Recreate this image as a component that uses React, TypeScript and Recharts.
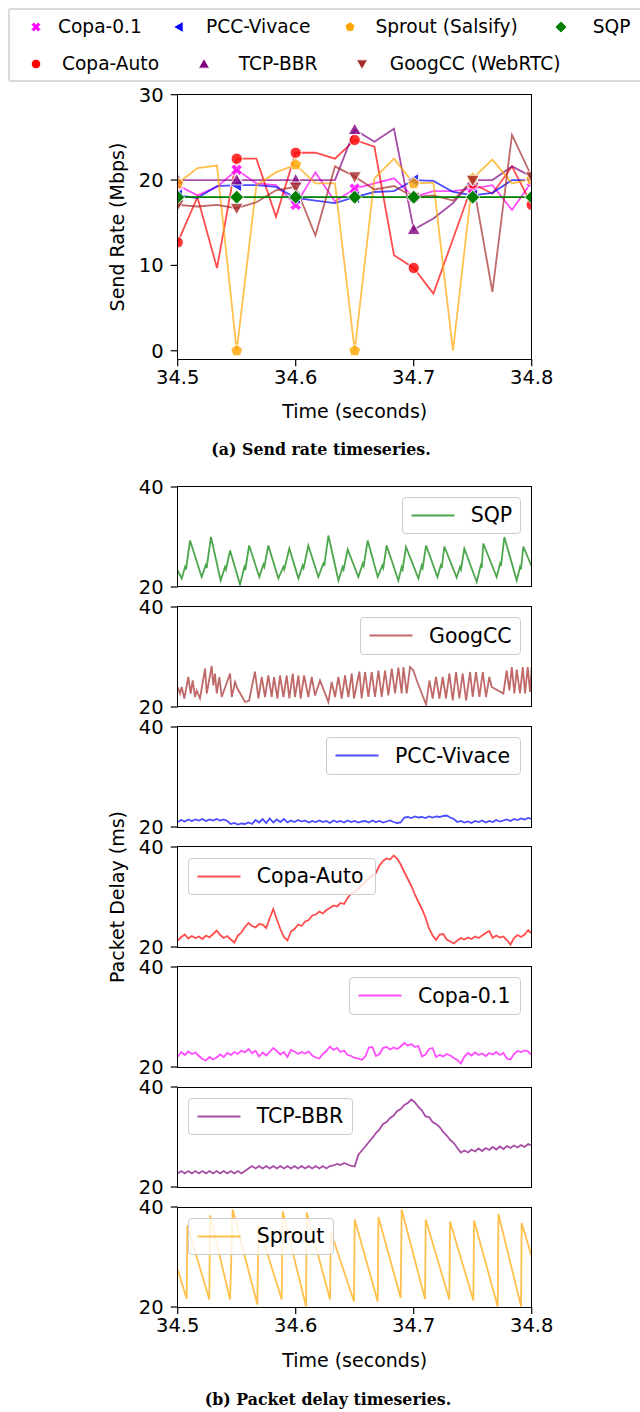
import React from "react";
import { LineChart, Line, XAxis, YAxis } from "recharts";

const FONT = "'DejaVu Sans', sans-serif";

// (a) send rate, one sample every 1/60 s
const sendTimes = [
  34.5, 34.5167, 34.5333, 34.55, 34.5667, 34.5833, 34.6, 34.6167, 34.6333, 34.65,
  34.6667, 34.6833, 34.7, 34.7167, 34.7333, 34.75, 34.7667, 34.7833, 34.8,
];
const copa01Rate = [19.4, 18.2, 19.2, 21.2, 19.6, 19.4, 17.1, 20.9, 17.5, 19.0, 19.6, 20.2, 18.0, 18.7, 18.7, 19.0, 19.4, 16.5, 19.8];
const copaAutoRate = [12.7, 18.0, 9.7, 22.5, 22.5, 15.7, 23.2, 23.2, 22.5, 24.7, 23.9, 11.2, 9.7, 6.7, 13.1, 19.6, 18.4, 21.6, 17.1];
const pccRate = [18.2, 17.9, 19.3, 19.4, 19.4, 19.2, 17.9, 17.6, 17.3, 18.0, 18.6, 18.7, 20.0, 19.9, 18.6, 18.2, 18.5, 20.0, 20.0];
const bbrRate = [20, 20, 20, 20, 20, 20, 20, 20, 20, 25.9, 24.5, 26.0, 14.2, 15.5, 17.3, 20, 20, 21.6, 20.4];
const sproutRate = [19.6, 21.4, 21.7, 0, 19.4, 20.9, 21.8, 19.6, 19.6, 0, 20.2, 22.5, 19.6, 19.7, 0, 20.2, 22.4, 19.6, 20.1];
const googRate = [17.1, 16.9, 17.1, 16.7, 17.4, 18.8, 19.2, 13.5, 21.6, 20.4, 18.9, 19.3, 18.0, 18.2, 17.6, 20.0, 6.9, 25.3, 20.4];
const sqpRate = [18, 18, 18, 18, 18, 18, 18, 18, 18, 18, 18, 18, 18, 18, 18, 18, 18, 18, 18];

const rateTicks = [0, 10, 20, 30];
const timeTicks = [34.5, 34.6, 34.7, 34.8];
const delayTicks = [20, 40];

// (b) packet delay. vertex lists: [ms after 34.5 s, delay ms]
const sqpDelay = [
  [0, 23.3], [3.4, 21.7], [6.2, 24.0], [7.0, 23.5], [10.5, 29.3],
  [20.3, 22.0], [23.7, 24.3], [24.5, 23.8], [28.2, 30.0],
  [36.4, 21.3], [40.1, 24.0], [40.9, 23.5], [44.4, 27.3],
  [52.8, 20.5], [56.5, 24.0], [57.3, 23.4], [60.5, 28.3],
  [69.2, 22.0], [72.6, 24.5], [73.4, 24.0], [76.8, 28.3],
  [85.3, 21.7], [89.5, 24.0], [90.3, 23.5], [94.6, 27.7],
  [102.3, 21.7], [105.9, 24.3], [106.7, 23.8], [110.7, 28.3],
  [119.2, 22.0], [123.4, 24.7], [124.2, 24.2], [127.7, 30.3],
  [136.2, 21.3], [139.8, 24.0], [140.6, 23.5], [144.1, 27.5],
  [153.1, 22.0], [156.8, 24.7], [157.6, 24.2], [161.0, 29.3],
  [169.5, 22.0], [173.4, 24.3], [174.2, 23.8], [177.1, 28.3],
  [187.0, 21.3], [189.8, 24.0], [190.6, 23.5], [193.5, 28.0],
  [204.0, 21.7], [206.8, 24.3], [207.6, 23.8], [210.5, 28.3],
  [220.1, 22.0], [222.9, 24.3], [223.7, 23.8], [226.0, 28.1],
  [236.4, 21.9], [239.3, 24.0], [240.1, 23.5], [242.9, 27.7],
  [253.4, 21.0], [256.8, 24.3], [257.6, 23.8], [259.0, 28.7],
  [270.3, 22.0], [273.2, 24.7], [274.0, 24.2], [276.8, 30.0],
  [287.3, 21.3], [290.1, 24.0], [290.9, 23.5], [292.9, 28.1],
  [300, 24.1],
];

const googDelay = [
  [0, 24.0], [2.0, 22.7], [3.4, 24.0], [5.6, 21.7], [9.0, 26.0], [11.0, 22.7], [12.7, 25.3],
  [14.7, 22.0], [16.1, 23.3], [18.9, 21.7], [23.2, 27.7], [24.6, 22.7], [28.8, 28.2], [30.2, 24.3],
  [31.6, 26.7], [33.1, 22.7], [35.3, 26.0], [37.3, 22.0], [44.4, 26.7], [45.8, 22.0], [48.6, 25.0],
  [50.6, 23.7], [57.1, 21.0], [60.5, 21.3], [65.5, 27.1], [68.4, 21.7], [71.2, 26.0], [74.0, 22.0],
  [76.8, 26.3], [79.7, 22.0], [81.6, 26.0], [84.5, 21.7], [86.7, 26.3], [89.6, 22.0], [92.4, 26.3],
  [94.6, 21.7], [97.5, 26.7], [99.4, 22.0], [102.3, 26.3], [104.2, 21.7], [107.1, 26.3], [110.7, 22.0],
  [113.6, 26.0], [116.4, 22.3], [120.6, 25.3], [127.7, 21.0], [130.5, 25.0], [133.3, 22.0], [136.2, 26.0],
  [139.0, 21.7], [141.8, 26.3], [144.6, 22.0], [147.5, 26.7], [149.4, 21.7], [154.0, 27.1], [155.9, 21.7],
  [158.8, 27.0], [161.6, 22.0], [164.4, 27.0], [167.2, 22.0], [170.1, 27.3], [172.9, 22.0], [175.7, 27.3],
  [178.5, 22.3], [181.4, 27.7], [184.2, 22.7], [187.0, 27.9], [189.8, 22.7], [191.3, 28.0], [194.1, 22.7],
  [196.9, 28.0], [199.7, 27.3], [202.6, 25.3], [210.5, 20.5], [213.3, 25.3], [216.1, 21.7], [218.9, 26.0],
  [221.8, 21.7], [224.6, 26.0], [227.4, 21.7], [230.2, 26.7], [233.1, 21.3], [235.9, 27.0], [238.7, 21.7],
  [241.5, 26.7], [244.4, 21.3], [247.8, 27.0], [250.0, 22.0], [252.8, 27.0], [255.7, 22.0], [258.5, 27.0],
  [261.3, 22.0], [264.1, 26.0], [266.1, 24.0], [276.0, 22.7], [278.8, 27.3], [281.1, 23.3], [283.1, 28.0],
  [285.3, 22.7], [287.3, 27.5], [290.1, 22.7], [292.4, 28.0], [294.4, 22.7], [296.6, 28.0], [298.6, 23.0],
  [300, 28.0],
];

const sproutDelay = [
  [0, 27.5], [7.6, 21.6], [8.2, 36.3], [26.8, 21.5], [27.4, 38.3], [44.4, 21.5], [46.6, 39.5],
  [67.5, 20.5], [68.4, 36.5], [88.1, 21.5], [89.0, 39.1], [108.8, 20.1], [109.3, 38.9],
  [129.1, 21.5], [129.7, 35.1], [149.4, 21.1], [150.0, 37.5], [169.5, 21.1], [170.1, 38.0],
  [189.0, 21.8], [189.8, 39.5], [209.6, 21.6], [210.2, 37.5], [230.2, 21.5], [230.8, 37.1],
  [250.6, 21.3], [251.1, 37.3], [271.2, 20.1], [271.8, 38.6], [291.0, 20.1], [291.5, 36.8],
  [300, 30.1],
];

// noisy traces, one reading every 3 ms from 34.500 to 34.800 s
const pccDelay = [
  21.0, 21.4, 21.1, 21.5, 21.2, 21.5, 21.3, 21.6, 21.2, 21.5, 21.3, 21.6, 21.3, 21.5, 21.2,
  20.6, 20.8, 20.5, 20.7, 20.6, 20.9, 20.6,
  21.4, 20.9, 21.6, 20.8, 21.7, 20.9, 21.5, 21.0, 21.6, 20.9, 21.3, 21.0, 21.4, 21.1, 21.3, 20.9, 21.2, 21.0, 21.3,
  21.0, 21.2, 20.8, 21.3, 21.0, 21.2, 20.9, 21.3, 21.0, 21.2, 20.9, 21.1, 21.2, 20.9, 21.3, 21.0, 21.2, 20.9, 21.1, 21.3, 21.0, 20.8, 20.9,
  21.9, 22.0, 21.8, 22.1, 21.9, 22.0, 21.8, 22.1, 21.9, 22.1, 22.0, 22.2, 22.3, 21.9, 21.6,
  21.0, 21.2, 20.9, 21.1, 20.8, 21.2, 21.0, 21.3, 20.9, 21.2, 21.0, 21.4, 21.1, 21.3, 21.5, 21.2, 21.6, 21.4, 21.7, 21.5, 21.8, 21.6,
];

const copaAutoDelay = [
  21.3, 22.0, 22.5, 21.7, 22.2, 21.8, 22.1, 21.6, 22.3, 21.9, 22.6, 23.3, 22.4, 21.8, 22.2, 21.5, 20.9,
  22.3, 22.9, 24.0, 24.8, 24.2, 23.9, 24.6, 24.5, 23.8, 25.8, 27.6, 25.5, 23.6, 22.0, 21.3, 23.1, 23.6,
  24.5, 24.2, 25.1, 25.4, 26.3, 26.5, 27.1, 26.7, 27.4, 27.8, 28.3, 28.1, 28.8, 28.6, 29.8, 30.7, 31.0,
  31.6, 32.4, 33.0, 33.8, 34.2, 34.8, 36.3, 37.2, 37.7, 37.5, 38.3, 37.7, 36.5, 35.0, 33.6, 32.2, 30.5,
  29.0, 27.6, 25.9, 23.7, 22.3, 21.4, 22.5, 22.6, 21.5, 21.1, 20.7, 21.3, 21.8, 21.5, 21.9, 21.6, 22.1,
  21.8, 22.3, 22.8, 23.2, 21.8, 22.3, 21.9, 22.1, 21.4, 20.5, 21.8, 22.4, 22.0, 22.5, 23.4, 22.7,
];

const copa01Delay = [
  22.0, 23.0, 22.4, 23.1, 22.6, 22.9, 22.2, 21.6, 21.3, 22.0, 21.5, 21.9, 22.5, 22.0, 22.8, 22.4, 23.0,
  22.6, 23.3, 22.9, 23.6, 22.8, 23.2, 22.1, 22.9, 22.3, 23.0, 23.8, 23.2, 22.5, 23.0, 22.0, 23.4, 23.1,
  22.6, 23.0, 22.7, 23.1, 22.3, 21.9, 21.7, 22.6, 23.2, 24.1, 23.4, 23.8, 23.0, 23.3, 22.4, 22.2, 21.8,
  21.7, 21.4, 22.1, 23.9, 24.0, 22.2, 22.6, 23.8, 24.0, 23.5, 23.9, 23.6, 24.1, 24.8, 24.3, 24.6, 24.0,
  24.2, 22.1, 22.5, 23.6, 23.8, 22.0, 22.4, 22.1, 22.6, 22.3, 21.8, 21.4, 20.7, 22.1, 22.8, 22.3, 22.9,
  22.4, 22.7, 22.2, 22.8, 22.5, 23.0, 22.4, 22.8, 21.7, 21.5, 22.6, 23.2, 23.0, 23.3, 23.1, 22.4,
];

const bbrDelay = [
  22.7, 23.2, 22.7, 23.2, 22.7, 23.2, 22.7, 23.2, 22.7, 23.2, 22.7, 23.2, 22.7, 23.2, 22.7, 23.2, 22.7, 23.2, 22.7, 23.2,
  23.7, 24.2, 23.7, 24.2, 23.7, 24.2, 23.7, 24.2, 23.7, 24.2, 23.7, 24.2, 23.7, 24.2, 23.7, 24.2, 23.7, 24.2, 23.7, 24.2, 23.7, 24.2, 23.7, 24.2,
  24.3, 24.6, 24.4, 24.8, 24.5, 24.2, 24.1,
  26.4, 27.3, 28.1, 29.0, 29.8, 30.8, 31.5, 32.6, 33.0, 33.8, 34.3, 35.2, 35.6, 36.4, 36.8, 37.5,
  36.9, 36.0, 35.3, 34.1, 34.0, 33.0, 32.6, 32.0, 31.0, 30.3, 29.4, 28.8, 27.8, 26.9,
  27.3, 26.9, 27.5, 27.1, 27.7, 27.2, 27.8, 27.4, 28.0, 27.5, 28.1, 27.6, 28.2, 27.8, 28.3, 27.9, 28.4, 28.0, 28.6, 28.3,
];

const C = {
  copa01: "#ff00ff",
  pcc: "#0000ff",
  sprout: "#ffa500",
  sqp: "#008000",
  copaAuto: "#ff0000",
  bbr: "#800080",
  goog: "#a52a2a",
};

const PLOT_L = 177.7;
const PLOT_R = 531.7;
const TICK = { fill: "#000", fontSize: 19.5, fontFamily: FONT };
const TICK_LINE = { stroke: "#000", strokeWidth: 1.2 };

function Marker({ shape, x, y, color, s = 1, op = 0.85 }: any) {
  const common = { fill: color, stroke: "#fff", strokeWidth: 0.9, fillOpacity: op };
  if (shape === "o") return <circle cx={x} cy={y} r={5.6 * s} {...common} />;
  if (shape === "D") {
    const a = 7 * s;
    return <polygon points={`${x},${y - a} ${x + a},${y} ${x},${y + a} ${x - a},${y}`} {...common} />;
  }
  if (shape === "^") {
    const a = 6.5 * s;
    return <polygon points={`${x},${y - a} ${x + a},${y + a * 0.75} ${x - a},${y + a * 0.75}`} {...common} />;
  }
  if (shape === "v") {
    const a = 6.5 * s;
    return <polygon points={`${x},${y + a} ${x + a},${y - a * 0.75} ${x - a},${y - a * 0.75}`} {...common} />;
  }
  if (shape === "<") {
    const a = 6.5 * s;
    return <polygon points={`${x - a},${y} ${x + a * 0.75},${y - a} ${x + a * 0.75},${y + a}`} {...common} />;
  }
  if (shape === "p") {
    const r = 6.2 * s;
    const pts = [0, 1, 2, 3, 4]
      .map((k) => {
        const ang = -Math.PI / 2 + (k * 2 * Math.PI) / 5;
        return `${x + r * Math.cos(ang)},${y + r * Math.sin(ang)}`;
      })
      .join(" ");
    return <polygon points={pts} {...common} />;
  }
  // filled X
  const a = 6 * s;
  const b = 2.2 * s;
  return (
    <g transform={`translate(${x},${y}) rotate(45)`}>
      <path
        d={`M${-b},${-a} H${b} V${-b} H${a} V${b} H${b} V${a} H${-b} V${b} H${-a} V${-b} H${-b} Z`}
        {...common}
      />
    </g>
  );
}

// marker on every third sample (every 0.05 s)
const dotEvery3 = (shape: string, color: string, op?: number) => (props: any) => {
  const { cx, cy, index } = props;
  if (index % 3 !== 0 || cx == null || cy == null) return <g key={`d${index}`} />;
  return (
    <g key={`d${index}`}>
      <Marker shape={shape} x={cx} y={cy} color={color} op={op} />
    </g>
  );
};

const rateRows = sendTimes.map((t, i) => ({
  t,
  copa01: copa01Rate[i],
  copaAuto: copaAutoRate[i],
  pcc: pccRate[i],
  bbr: bbrRate[i],
  sprout: sproutRate[i],
  goog: googRate[i],
  sqp: sqpRate[i],
}));

const rateSeries = [
  { key: "copa01", shape: "X", color: C.copa01, op: 0.7 },
  { key: "copaAuto", shape: "o", color: C.copaAuto, op: 0.7 },
  { key: "pcc", shape: "<", color: C.pcc, op: 0.7 },
  { key: "bbr", shape: "^", color: C.bbr, op: 0.7 },
  { key: "sprout", shape: "p", color: C.sprout, op: 0.7 },
  { key: "goog", shape: "v", color: C.goog, op: 0.7 },
  { key: "sqp", shape: "D", color: C.sqp, op: 1 },
];

const topLegend = [
  { label: "Copa-0.1", shape: "X", color: C.copa01, mx: 35.5, tx: 58, row: 0 },
  { label: "PCC-Vivace", shape: "<", color: C.pcc, mx: 178.8, tx: 206, row: 0 },
  { label: "Sprout (Salsify)", shape: "p", color: C.sprout, mx: 350.2, tx: 375.5, row: 0 },
  { label: "SQP", shape: "D", color: C.sqp, mx: 561, tx: 592.7, row: 0 },
  { label: "Copa-Auto", shape: "o", color: C.copaAuto, mx: 35.5, tx: 62, row: 1 },
  { label: "TCP-BBR", shape: "^", color: C.bbr, mx: 204, tx: 238.8, row: 1 },
  { label: "GoogCC (WebRTC)", shape: "v", color: C.goog, mx: 362.4, tx: 389.8, row: 1 },
];

const fromPairs = (pairs: number[][]) => pairs.map(([ms, v]) => ({ t: 34.5 + ms / 1000, v }));
const fromEven = (vals: number[]) =>
  vals.map((v, i) => ({ t: 34.5 + (i * 0.3) / (vals.length - 1), v }));

const panels = [
  { name: "SQP", color: C.sqp, rows: fromPairs(sqpDelay), leg: { l: 401.7, w: 119 } },
  { name: "GoogCC", color: C.goog, rows: fromPairs(googDelay), leg: { l: 360, w: 160.7 } },
  { name: "PCC-Vivace", color: C.pcc, rows: fromEven(pccDelay), leg: { l: 326, w: 194.7 } },
  { name: "Copa-Auto", color: C.copaAuto, rows: fromEven(copaAutoDelay), leg: { l: 187.7, w: 188 } },
  { name: "Copa-0.1", color: C.copa01, rows: fromEven(copa01Delay), leg: { l: 349, w: 171.7 } },
  { name: "TCP-BBR", color: C.bbr, rows: fromEven(bbrDelay), leg: { l: 187.7, w: 165.3 } },
  { name: "Sprout", color: C.sprout, rows: fromPairs(sproutDelay), leg: { l: 187.7, w: 146.3 } },
];

const PANEL_TOP = 486.7;
const PANEL_STEP = 120.1;
const PANEL_H = 100;

function Frame({ top, height }: { top: number; height: number }) {
  return (
    <div
      style={{
        position: "absolute",
        left: PLOT_L - 0.65,
        top: top - 0.65,
        width: PLOT_R - PLOT_L + 1.3,
        height: height + 1.3,
        border: "1.3px solid #000",
        boxSizing: "border-box",
        pointerEvents: "none",
      }}
    />
  );
}

function AbsText({ x, y, children, style }: any) {
  return (
    <div
      style={{
        position: "absolute",
        left: x,
        top: y,
        transform: "translate(-50%, -50%)",
        whiteSpace: "nowrap",
        fontFamily: FONT,
        fontSize: 19,
        color: "#000",
        lineHeight: 1,
        ...style,
      }}
    >
      {children}
    </div>
  );
}

export default function App() {
  const mL = PLOT_L - 60;
  const mR = 640 - PLOT_R;
  return (
    <div
      style={{
        position: "absolute",
        left: 0,
        top: 0,
        width: 640,
        height: 1412,
        background: "#fff",
        fontFamily: FONT,
        overflow: "hidden",
      }}
    >
      {/* top legend */}
      <div
        style={{
          position: "absolute",
          left: 7.5,
          top: 8.3,
          width: 650,
          height: 74,
          border: "2.5px solid #dadada",
          borderRadius: 3,
          boxSizing: "border-box",
          background: "#fff",
        }}
      />
      {topLegend.map((it) => {
        const y = it.row === 0 ? 26.7 : 64;
        return (
          <React.Fragment key={it.label}>
            <svg
              style={{ position: "absolute", left: it.mx - 10, top: y - 10 }}
              width={20}
              height={20}
            >
              <Marker shape={it.shape} x={10} y={10} color={it.color} s={0.85} op={1} />
            </svg>
            <div
              style={{
                position: "absolute",
                left: it.tx,
                top: y,
                transform: "translateY(-50%)",
                fontSize: 18.6,
                lineHeight: 1,
                whiteSpace: "nowrap",
                color: "#000",
              }}
            >
              {it.label}
            </div>
          </React.Fragment>
        );
      })}

      {/* (a) send rate */}
      <div style={{ position: "absolute", left: 0, top: 0 }}>
        <LineChart
          width={640}
          height={400}
          data={rateRows}
          margin={{ top: 94.7, right: mR, bottom: 10.7, left: mL }}
        >
          <XAxis
            dataKey="t"
            type="number"
            domain={[34.5, 34.8]}
            ticks={timeTicks}
            interval={0}
            tickFormatter={(v: number) => v.toFixed(1)}
            tick={TICK}
            tickLine={TICK_LINE}
            tickSize={7}
            tickMargin={4}
            axisLine={false}
            height={30}
            allowDataOverflow
          />
          <YAxis
            type="number"
            domain={[-1, 30]}
            ticks={rateTicks}
            interval={0}
            tick={TICK}
            tickLine={TICK_LINE}
            tickSize={7}
            tickMargin={7}
            axisLine={false}
            width={60}
            allowDataOverflow
          />
          {rateSeries.map((s) => (
            <Line
              key={s.key}
              dataKey={s.key}
              type="linear"
              stroke={s.color}
              strokeOpacity={s.op}
              strokeWidth={1.8}
              dot={dotEvery3(s.shape, s.color, s.op === 1 ? 1 : 0.8)}
              activeDot={false}
              isAnimationActive={false}
            />
          ))}
        </LineChart>
      </div>
      <Frame top={94.7} height={264.6} />
      <AbsText x={117} y={227} style={{ transform: "translate(-50%, -50%) rotate(-90deg)" }}>
        Send Rate (Mbps)
      </AbsText>
      <AbsText x={(PLOT_L + PLOT_R) / 2} y={410.5}>
        Time (seconds)
      </AbsText>
      <AbsText
        x={321}
        y={450}
        style={{ fontFamily: "'DejaVu Serif', serif", fontWeight: 700, fontSize: 15.8 }}
      >
        (a) Send rate timeseries.
      </AbsText>

      {/* (b) packet delay panels */}
      {panels.map((p, k) => {
        const top = PANEL_TOP + PANEL_STEP * k;
        const last = k === panels.length - 1;
        const padTop = 14;
        const axisH = last ? 40 : 0;
        const padBot = last ? 5 : 14;
        return (
          <React.Fragment key={p.name}>
            <div style={{ position: "absolute", left: 0, top: top - padTop }}>
              <LineChart
                width={640}
                height={padTop + PANEL_H + axisH + padBot}
                data={p.rows}
                margin={{ top: padTop, right: mR, bottom: padBot, left: mL }}
              >
                <XAxis
                  dataKey="t"
                  type="number"
                  domain={[34.5, 34.8]}
                  ticks={timeTicks}
                  interval={0}
                  tickFormatter={(v: number) => v.toFixed(1)}
                  tick={TICK}
                  tickLine={TICK_LINE}
                  tickSize={7}
                  tickMargin={4}
                  axisLine={false}
                  height={axisH}
                  hide={!last}
                  allowDataOverflow
                />
                <YAxis
                  type="number"
                  domain={[20, 40]}
                  ticks={delayTicks}
                  interval={0}
                  tick={TICK}
                  tickLine={TICK_LINE}
                  tickSize={7}
                  tickMargin={7}
                  axisLine={false}
                  width={60}
                  allowDataOverflow
                />
                <Line
                  dataKey="v"
                  type="linear"
                  stroke={p.color}
                  strokeOpacity={0.7}
                  strokeWidth={1.8}
                  dot={false}
                  activeDot={false}
                  isAnimationActive={false}
                />
              </LineChart>
            </div>
            <Frame top={top} height={PANEL_H} />
            <div
              style={{
                position: "absolute",
                left: p.leg.l,
                top: top + (p.leg.l < 200 ? 10.5 : 10.2),
                width: p.leg.w,
                height: 37.5,
                border: "1.2px solid #cccccc",
                borderRadius: 4,
                boxSizing: "border-box",
                background: "rgba(255,255,255,0.8)",
              }}
            >
              <svg style={{ position: "absolute", left: 0, top: 0 }} width={60} height={36}>
                <line x1={8.5} x2={51.5} y1={17.5} y2={17.5} stroke={p.color} strokeOpacity={0.7} strokeWidth={1.8} />
              </svg>
              <div
                style={{
                  position: "absolute",
                  left: 68,
                  top: 17.5,
                  transform: "translateY(-50%)",
                  fontSize: 20.5,
                  lineHeight: 1,
                  whiteSpace: "nowrap",
                  color: "#000",
                }}
              >
                {p.name}
              </div>
            </div>
          </React.Fragment>
        );
      })}
      <AbsText x={117} y={897} style={{ transform: "translate(-50%, -50%) rotate(-90deg)" }}>
        Packet Delay (ms)
      </AbsText>
      <AbsText x={(PLOT_L + PLOT_R) / 2} y={1360}>
        Time (seconds)
      </AbsText>
      <AbsText
        x={328}
        y={1400}
        style={{ fontFamily: "'DejaVu Serif', serif", fontWeight: 700, fontSize: 15.8 }}
      >
        (b) Packet delay timeseries.
      </AbsText>
    </div>
  );
}
